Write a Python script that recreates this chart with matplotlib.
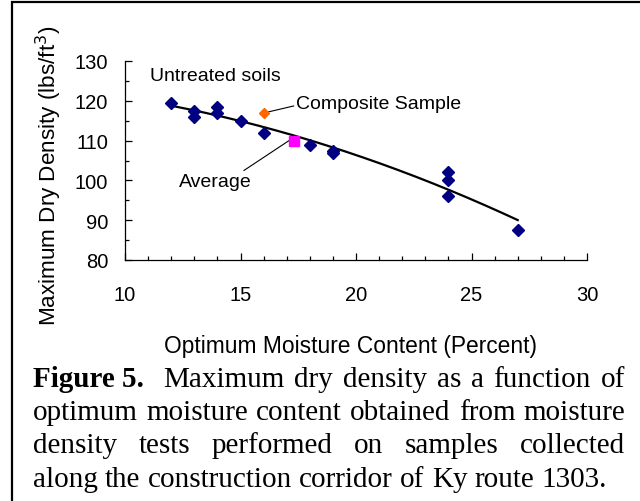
import numpy as np
import matplotlib
matplotlib.use("Agg")
import matplotlib.pyplot as plt
from matplotlib.patches import Rectangle
from matplotlib.ticker import MultipleLocator

# ---- data ----
moisture = [12, 13, 13, 14, 14, 15, 16, 18, 19, 19, 24, 24, 24, 27]
density = [119.5, 117.5, 116, 118.5, 117, 115, 112, 109, 107.5, 107, 102, 100, 96, 87.5]
composite_x = [16]
composite_y = [117]
average_x = [17.3]
average_y = [110]
x_ticks = [10, 15, 20, 25, 30]
y_ticks = [80, 90, 100, 110, 120, 130]

caption_lines = [
    [("Figure 5.", "bold"), ("", None), ("Maximum", "normal"), ("dry", "normal"), ("density", "normal"),
     ("as", "normal"), ("a", "normal"), ("function", "normal"), ("of", "normal")],
    [(w, "normal") for w in "optimum moisture content obtained from moisture".split()],
    [(w, "normal") for w in "density tests performed on samples collected".split()],
    [(w, "normal") for w in "along the construction corridor of Ky route 1303.".split()],
]

W, H = 640, 502
fig = plt.figure(figsize=(W / 100, H / 100), dpi=100)
fig.patch.set_facecolor("white")

def fx(px):
    return px / W

def fy(py):
    return 1 - py / H

ax = fig.add_axes([fx(125), fy(261), fx(587) - fx(125), fy(62) - fy(261)])
ax.set_xlim(10, 30)
ax.set_ylim(80, 130)
for s in ["top", "right"]:
    ax.spines[s].set_visible(False)
for s in ["left", "bottom"]:
    ax.spines[s].set_linewidth(0.9)

ax.set_xticks(x_ticks)
ax.set_yticks(y_ticks)
ax.xaxis.set_minor_locator(MultipleLocator(1))
ax.yaxis.set_minor_locator(MultipleLocator(5))
ax.tick_params(axis="both", which="major", direction="in", length=5, width=0.9,
               labelsize=14.5, colors="black")
ax.tick_params(axis="both", which="minor", direction="in", length=3, width=0.9)
ax.tick_params(axis="x", which="major", pad=18)
ax.tick_params(axis="y", which="major", pad=12)
for lab in ax.get_xticklabels() + ax.get_yticklabels():
    lab.set_fontfamily("Liberation Sans")

# trend line (2nd order polynomial fit of the untreated soils)
coef = np.polyfit(moisture, density, 2)
xs = np.linspace(min(moisture), max(moisture), 200)
ax.plot(xs, np.polyval(coef, xs), color="black", lw=1.6, zorder=2)

ax.plot(moisture, density, linestyle="none", marker="D", ms=5.8,
        color="#000080", zorder=3, clip_on=False)
ax.plot(composite_x, composite_y, linestyle="none", marker="D", ms=5.0,
        color="#FF6600", zorder=4)
ax.plot(average_x, average_y, linestyle="none", marker="s", ms=6.8,
        color="#FF00FF", zorder=4)

tf = dict(fontfamily="Liberation Sans", fontsize=14, color="black")
ax.text(11.1, 126.3, "Untreated soils", va="center", ha="left", **tf)
ax.text(17.4, 119.4, "Composite Sample", va="center", ha="left", **tf)
ax.plot([16.2, 17.3], [117.2, 118.7], color="black", lw=0.8)
ax.text(12.35, 99.7, "Average", va="center", ha="left", **tf)
ax.plot([15.15, 17.1], [102.5, 110.0], color="black", lw=0.8)

ax.set_ylabel("Maximum Dry Density (lbs/ft$^3$)", fontfamily="Liberation Sans",
              fontsize=16.2)
ax.yaxis.set_label_coords(fx(64), fy(176), transform=fig.transFigure)

fig.text(fx(351), fy(347), "Optimum Moisture Content (Percent)", ha="center", va="center",
         fontfamily="Liberation Sans", fontsize=16.4)

# border
fig.patches.append(Rectangle((fx(11.5), fy(560)), 1.2, fy(2.5) - fy(560),
                             transform=fig.transFigure, fill=False, lw=1.6,
                             edgecolor="black", clip_on=False))

# justified caption
renderer = fig.canvas.get_renderer()
left_px, right_px = 33, 625
baselines = [387, 420, 453, 487]
csize = 21.0
def measure(s, weight):
    t = fig.text(0, 0, s, fontfamily="Liberation Serif", fontsize=csize, fontweight=weight)
    w = t.get_window_extent(renderer).width
    t.remove()
    return w

space_w = measure("a a", "normal") - measure("aa", "normal")
for li, (line, base) in enumerate(zip(caption_lines, baselines)):
    words = [(w, wt) for w, wt in line if w]
    gaps = []
    for i in range(len(line) - 1):
        if line[i][0] == "":
            continue
        gaps.append(2 if (i + 1 < len(line) and line[i + 1][0] == "") else 1)
    widths = [measure(w, wt) for w, wt in words]
    natural = sum(widths) + sum(gaps) * space_w
    justify = li < len(caption_lines) - 1
    extra = (right_px - left_px - natural) / sum(gaps) if justify else 0
    x = left_px
    for i, ((w, wt), wd) in enumerate(zip(words, widths)):
        fig.text(fx(x), fy(base), w, fontfamily="Liberation Serif", fontsize=csize,
                 fontweight=wt, ha="left", va="baseline")
        if i < len(gaps):
            x += wd + gaps[i] * (space_w + extra)

fig.savefig("out.png", dpi=100)
